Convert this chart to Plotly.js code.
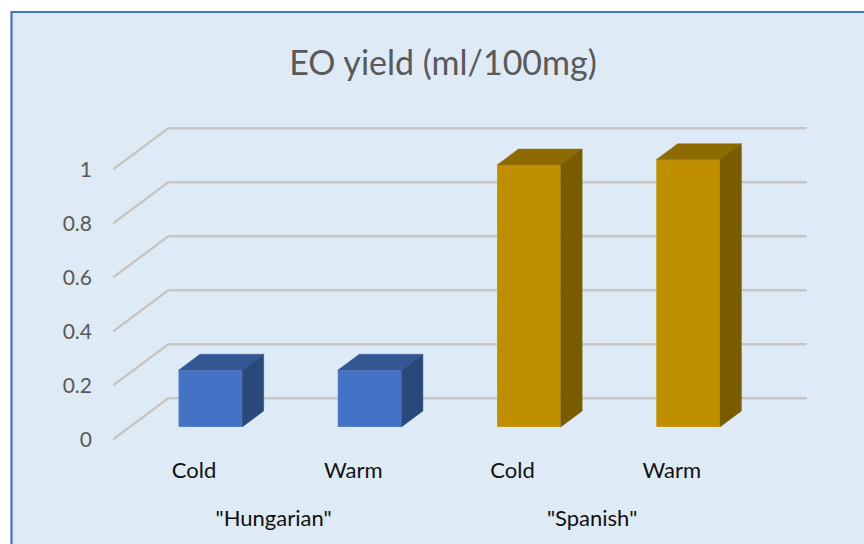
<!DOCTYPE html>
<html>
<head>
<meta charset="utf-8">
<script src="https://cdn.plot.ly/plotly-3.0.1.min.js"></script>
<style>html,body{margin:0;padding:0;background:#fff;}#chart{width:864px;height:544px;}</style>
</head>
<body>
<div id="chart"></div>
<script>
// ---- data ----
const conditions = ["Cold", "Warm", "Cold", "Warm"];
const varieties = ['"Hungarian"', '"Hungarian"', '"Spanish"', '"Spanish"'];
const yieldValues = [0.21, 0.21, 0.97, 0.99];
const yTicks = [0, 0.2, 0.4, 0.6, 0.8, 1];
const yTickLabels = ["0", "0.2", "0.4", "0.6", "0.8", "1"];

// ---- styling / pseudo-3D geometry (in axis units) ----
const palette = {
  '"Hungarian"': {front: "#4472C4", top: "#325793", side: "#29487C"},
  '"Spanish"':   {front: "#BF8F00", top: "#8E6B00", side: "#7A5C00"}
};
const barW = 0.4;
const depthX = 0.135, depthY = 0.0593;      // bar depth offset
const wallOffY = 0.1063, wallX = -0.2637, wallRight = 3.745; // back wall
const frontOffY = -0.0455, frontX = -0.6091; // front axis plane
const labelShift = -0.1024;

const idx = conditions.map((_, i) => i);

const traces = [];
// front faces as bars
traces.push({
  type: "bar", x: idx, y: yieldValues, width: barW, base: 0,
  marker: {color: varieties.map(v => palette[v].front), line: {width: 0.6, color: "rgba(255,255,255,0.35)"}},
  hoverinfo: "skip", showlegend: false
});
// top and side faces
const uniqVar = [...new Set(varieties)];
uniqVar.forEach(vn => {
  const tx = [], ty = [], sx = [], sy = [];
  idx.forEach(i => {
    if (varieties[i] !== vn) return;
    const v = yieldValues[i], l = i - barW / 2, r = i + barW / 2;
    tx.push(l, r, r + depthX, l + depthX, l, null);
    ty.push(v, v, v + depthY, v + depthY, v, null);
    sx.push(r, r, r + depthX, r + depthX, r, null);
    sy.push(0, v, v + depthY, depthY, 0, null);
  });
  traces.push({type: "scatter", mode: "lines", x: tx, y: ty, fill: "toself",
    fillcolor: palette[vn].top, line: {width: 0.5, color: palette[vn].top}, hoverinfo: "skip", showlegend: false});
  traces.push({type: "scatter", mode: "lines", x: sx, y: sy, fill: "toself",
    fillcolor: palette[vn].side, line: {width: 0.5, color: palette[vn].side}, hoverinfo: "skip", showlegend: false});
});

// gridlines (back wall + floor-diagonals) as shapes below the traces
const shapes = [{
  type: "rect", xref: "paper", yref: "paper", x0: 11.5 / 864, x1: 1.02, y0: -0.02, y1: 1 - 12 / 544,
  fillcolor: "#DEEAF6", line: {color: "#4472C4", width: 2.2}, layer: "below"
}];
yTicks.forEach(g => {
  shapes.push({type: "line", xref: "x", yref: "y", x0: frontX, y0: g + frontOffY, x1: wallX, y1: g + wallOffY,
    line: {color: "#C6C6C6", width: 2.4}, layer: "below"});
  shapes.push({type: "line", xref: "x", yref: "y", x0: wallX, y0: g + wallOffY, x1: wallRight, y1: g + wallOffY,
    line: {color: "#C6C6C6", width: 2.4}, layer: "below"});
});

const groupCenters = uniqVar.map(vn => {
  const ii = idx.filter(i => varieties[i] === vn);
  return ii.reduce((a, b) => a + b, 0) / ii.length + labelShift;
});

const font = "Lato, 'Open Sans', sans-serif";
const layout = {
  width: 864, height: 544,
  margin: {l: 0, r: 0, t: 0, b: 0},
  paper_bgcolor: "#ffffff", plot_bgcolor: "rgba(0,0,0,0)",
  showlegend: false,
  title: {text: "EO yield (ml/100mg)", x: 443 / 864, xanchor: "center", xref: "paper",
    y: 1 - 63 / 544, yanchor: "middle", yref: "paper",
    font: {family: font, size: 34, color: "#595959"}},
  xaxis: {range: [-210.3 / 159.25, (864 - 210.3) / 159.25], showgrid: false, zeroline: false, showline: false,
    tickmode: "array", tickvals: idx.map(i => i + labelShift), ticktext: conditions, ticks: "",
    anchor: "free", position: 1 - 455 / 544, tickfont: {family: font, size: 22, color: "#111111"}},
  xaxis2: {range: [-210.3 / 159.25, (864 - 210.3) / 159.25], overlaying: "x", showgrid: false, zeroline: false, showline: false,
    tickmode: "array", tickvals: groupCenters, ticktext: uniqVar, ticks: "", side: "bottom",
    anchor: "free", position: 1 - 503 / 544, tickfont: {family: font, size: 22, color: "#111111"}},
  yaxis: {range: [(427 - 544) / 270, 427 / 270], showgrid: false, zeroline: false, showline: false,
    tickmode: "array", tickvals: yTicks.map(g => g + frontOffY), ticktext: yTickLabels, ticks: "",
    anchor: "free", position: 92 / 864, tickfont: {family: font, size: 21, color: "#595959"}},
  shapes: shapes,
  bargap: 0
};
// dummy trace to activate xaxis2
traces.push({type: "scatter", x: [0], y: [0], xaxis: "x2", mode: "markers", marker: {opacity: 0}, hoverinfo: "skip", showlegend: false});

Plotly.newPlot("chart", traces, layout, {staticPlot: true});
</script>
</body>
</html>
